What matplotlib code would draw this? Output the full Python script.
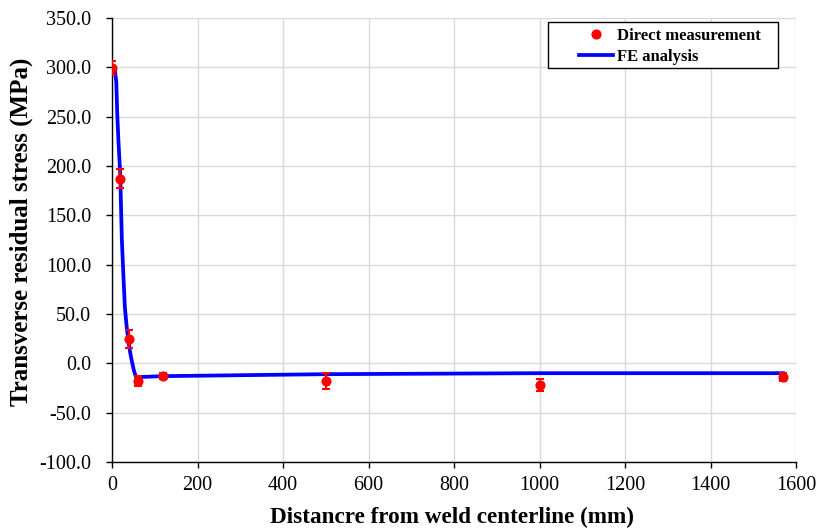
import matplotlib
matplotlib.use("Agg")
import matplotlib.pyplot as plt
from matplotlib.lines import Line2D
from matplotlib.patches import Rectangle

# Measured data
meas_x = [0, 19, 40, 60, 120, 500, 1000, 1570]
meas_y = [299, 187, 25, -18, -13, -18, -22, -14]
meas_err = [7, 9.5, 9, 5, 3, 8, 6, 4]

# FE analysis curve
fe_x = [0, 7, 10, 12, 15, 19, 23, 27, 30, 34, 38, 42, 46, 51, 56, 120, 500, 1000, 1570]
fe_y = [296, 296, 285, 255, 225, 193, 125, 85, 57, 38, 24, 12, 3, -7, -14, -13, -11, -10, -10]

xticks = [0, 200, 400, 600, 800, 1000, 1200, 1400, 1600]
yticks = [-100, -50, 0, 50, 100, 150, 200, 250, 300, 350]

serif = ["Liberation Serif", "DejaVu Serif"]
plt.rcParams["font.family"] = serif

fig = plt.figure(figsize=(8.16, 5.31), dpi=100)
ax = fig.add_axes([0.1373, 0.130, 0.8382, 0.836])

ax.plot(fe_x, fe_y, color="#0000ff", lw=2.7, zorder=3)
ax.errorbar(meas_x, meas_y, yerr=meas_err, fmt="o", color="red", ms=6.3,
            ecolor="red", elinewidth=1.5, capsize=3, capthick=1.5, zorder=4)

ax.set_xlim(0, 1600)
ax.set_ylim(-100, 350)
ax.set_xticks(xticks)
ax.set_yticks(yticks)
ax.set_yticklabels([f"{v:.1f}" for v in yticks])
ax.tick_params(axis="both", labelsize=14.5, direction="out", length=4.5, width=1)
ax.tick_params(axis="y", pad=10.5)
ax.tick_params(axis="x", pad=5.5)
ax.grid(True, color="#d9d9d9", lw=1)
ax.set_axisbelow(True)
for s in ["top", "right"]:
    ax.spines[s].set_visible(False)
for s in ["left", "bottom"]:
    ax.spines[s].set_color("black")
    ax.spines[s].set_linewidth(1)

fig.text(452 / 816, 1 - 523 / 531, "Distancre from weld centerline (mm)",
         fontsize=16.7, fontweight="bold", ha="center", va="baseline")
fig.text(21 / 816, 1 - 232 / 531, "Transverse residual stress (MPa)",
         fontsize=18, fontweight="bold", ha="center", va="center", rotation=90)

# Legend: frame drawn manually
ax.add_patch(Rectangle((0.637, 0.887), 0.337, 0.104, transform=ax.transAxes,
                       facecolor="white", edgecolor="black", lw=1, zorder=5,
                       clip_on=False))
h_meas = Line2D([], [], marker="o", color="red", ls="none", ms=6.3)
h_fe = Line2D([], [], color="#0000ff", lw=2.7)
leg = ax.legend([h_meas, h_fe], ["Direct measurement", "FE analysis"],
                loc="upper left", bbox_to_anchor=(0.683, 0.977),
                prop={"family": serif, "weight": "bold", "size": 12},
                frameon=False, handlelength=2.0, handletextpad=0.25,
                borderpad=0, borderaxespad=0, labelspacing=0.3)
leg.set_zorder(6)

fig.savefig("out.png", dpi=100)
